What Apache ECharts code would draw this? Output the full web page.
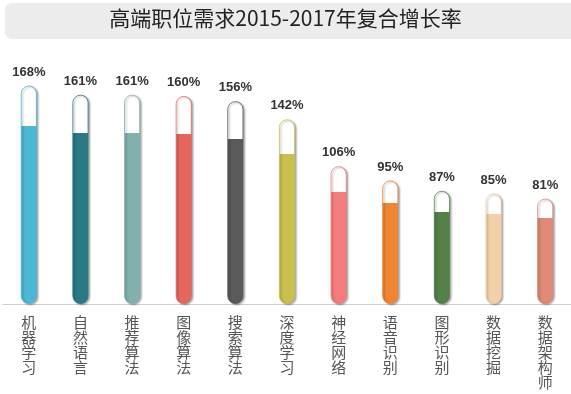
<!DOCTYPE html>
<html>
<head>
<meta charset="utf-8">
<script src="https://cdn.jsdelivr.net/npm/echarts@6/dist/echarts.min.js"></script>
<style>html,body{margin:0;padding:0;background:#fff}#c{width:571px;height:394px}</style>
</head>
<body>
<div id="c"></div>
<script>
const titleText = '高端职位需求2015-2017年复合增长率';
const categories = ['机器学习','自然语言','推荐算法','图像算法','搜索算法','深度学习','神经网络','语音识别','图形识别','数据挖掘','数据架构师'];
const values = [168,161,161,160,156,142,106,95,87,85,81];
const colors = ['#4bb8d6','#2a7a85','#82b1ad','#e4665d','#5a5a5a','#c9c04d','#f57c7c','#f08633','#54804a','#f2d1aa','#e08a77'];

const chart = echarts.init(document.getElementById('c'));
const data = values.map((v, i) => ({
  value: v,
  itemStyle: {
    color: new echarts.graphic.LinearGradient(0, 0, 0, 1, [
      {offset: 0, color: '#ffffff'},
      {offset: 0.185, color: '#ffffff'},
      {offset: 0.185, color: colors[i]},
      {offset: 1, color: colors[i]}
    ]),
    borderColor: colors[i],
    borderWidth: 0.8,
    borderRadius: 8,
    shadowColor: 'rgba(0,0,0,0.35)',
    shadowBlur: 2,
    shadowOffsetX: 1.5,
    shadowOffsetY: 1
  }
}));

chart.setOption({
  animation: false,
  graphic: [{
    type: 'rect',
    z: -10,
    shape: {x: 5, y: 3, width: 600, height: 36, r: 7},
    style: {fill: '#ececec'}
  }],
  title: {
    text: titleText,
    left: 'center',
    top: 8,
    padding: 0,
    textStyle: {fontFamily: 'Noto Sans CJK SC', fontSize: 21, fontWeight: 'normal', color: '#222'}
  },
  grid: {left: 3, right: -8, top: 70, bottom: 90, containLabel: false},
  xAxis: {
    type: 'category',
    data: categories,
    axisLine: {lineStyle: {color: '#d0d0d0', width: 1}},
    axisTick: {show: false},
    axisLabel: {
      interval: 0,
      margin: 11,
      fontFamily: 'Noto Sans CJK SC',
      fontSize: 15,
      lineHeight: 15,
      color: '#555',
      formatter: v => v.split('').join('\n')
    }
  },
  yAxis: {type: 'value', min: 0, max: 180, show: false},
  series: [{
    type: 'bar',
    barWidth: 16,
    data: data,
    label: {
      show: true,
      position: 'top',
      distance: 7,
      formatter: '{c}%',
      fontFamily: 'Liberation Sans',
      fontWeight: 'bold',
      fontSize: 13,
      color: '#333'
    }
  }]
});
</script>
</body>
</html>
